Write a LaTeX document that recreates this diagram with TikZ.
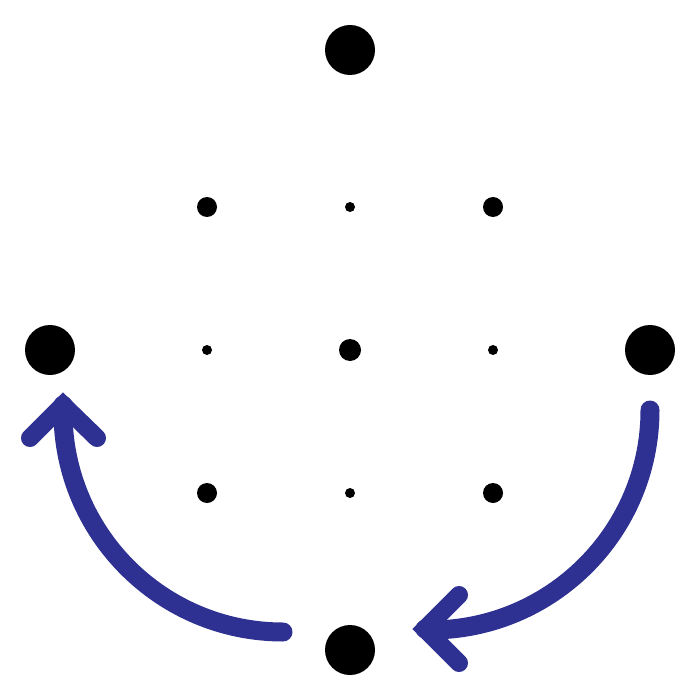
\documentclass[tikz,border=0pt]{standalone}
\begin{document}
\begin{tikzpicture}[x=1pt,y=-1pt]
\definecolor{arrowblue}{HTML}{2E3192}
\tikzset{
  bigdot/.style={circle,fill=black,inner sep=0pt,minimum size=50pt},
  middot/.style={circle,fill=black,inner sep=0pt,minimum size=20pt},
  ctrdot/.style={circle,fill=black,inner sep=0pt,minimum size=22pt},
  smalldot/.style={circle,fill=black,inner sep=0pt,minimum size=10pt},
  bluearc/.style={draw=arrowblue,line width=19pt,line cap=round,line join=miter},
  chevron/.style={draw=arrowblue,line width=18pt,line cap=round,line join=miter,miter limit=10}
}
\useasboundingbox (0,0) rectangle (700,700);
% big dots
\node[bigdot] (top) at (350,50) {};
\node[bigdot] (left) at (50,350) {};
\node[bigdot] (right) at (650,350) {};
\node[bigdot] (bottom) at (350,650) {};
% grid dots
\node[middot] (g11) at (207,207) {};
\node[smalldot] (g12) at (350,207) {};
\node[middot] (g13) at (493,207) {};
\node[smalldot] (g21) at (207,350) {};
\node[ctrdot] (g22) at (350,350) {};
\node[smalldot] (g23) at (493,350) {};
\node[middot] (g31) at (207,493) {};
\node[smalldot] (g32) at (350,493) {};
\node[middot] (g33) at (493,493) {};
% right arrow
\coordinate (rs) at (650,410);
\coordinate (rtip) at (425,629);
\draw[bluearc] (rs) arc[start angle=0,end angle=90,radius=220] -- (rtip);
\draw[chevron] (459,595) -- (rtip) -- (459,663);
% left arrow
\coordinate (ls) at (283,632);
\coordinate (ltip) at (63,405);
\draw[bluearc] (ls) arc[start angle=90,end angle=180,radius=220] -- (ltip);
\draw[chevron] (30,438) -- (ltip) -- (97,438);
\end{tikzpicture}
\end{document}
